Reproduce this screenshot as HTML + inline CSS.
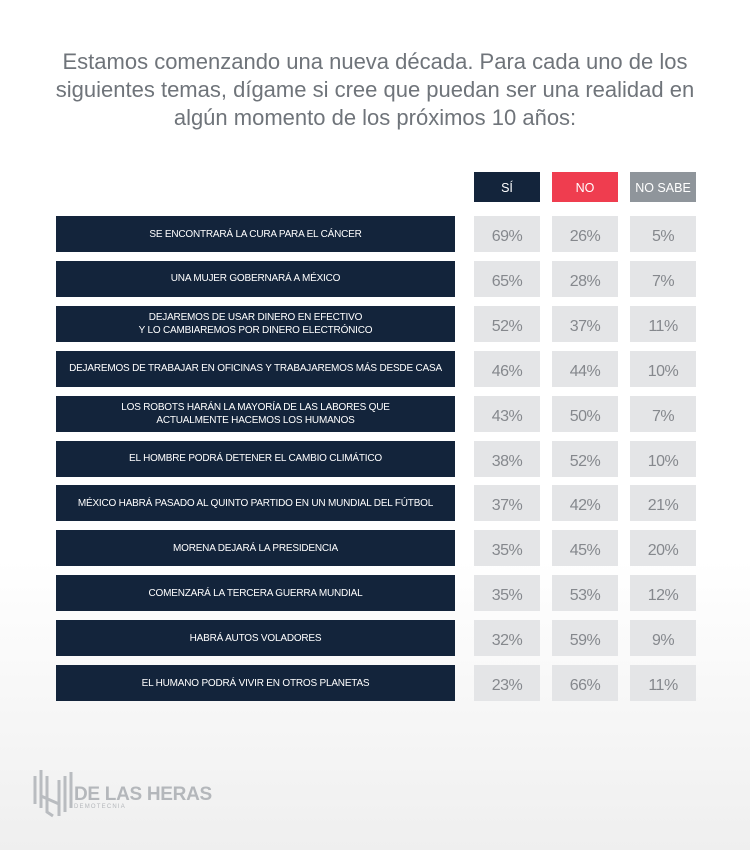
<!DOCTYPE html>
<html><head><meta charset="utf-8"><style>
body{margin:0;width:750px;height:850px;overflow:hidden;font-family:"Liberation Sans",sans-serif;background:linear-gradient(#fff 0,#fff 560px,#efefef 850px);position:relative}
.t{position:absolute;left:0;width:750px;top:48px;text-align:center;color:#6f747a;font-size:22px;line-height:28px}
.h{position:absolute;top:172px;width:66px;height:30px;color:#fff;font-size:12.5px;line-height:33px;text-align:center}
.lab{position:absolute;left:56px;width:399px;height:36px;background:#13243b;color:#fff;font-size:10px;letter-spacing:-0.2px;display:flex;align-items:center;justify-content:center;text-align:center;line-height:13px;white-space:nowrap}
.v{position:absolute;width:66px;height:36px;background:#e4e5e7;color:#85888d;font-size:16px;line-height:42px;text-align:center;letter-spacing:-0.5px}
</style></head><body>
<div class="t">Estamos comenzando una nueva década. Para cada uno de los<br>siguientes temas, dígame si cree que puedan ser una realidad en<br>algún momento de los próximos 10 años:</div>
<div class="h" style="left:474px;background:#13243b">SÍ</div>
<div class="h" style="left:552px;background:#ef3d4f">NO</div>
<div class="h" style="left:630px;background:#8f959b">NO SABE</div>
<div id="rows"></div>
<div style="position:absolute;left:33px;top:768px;width:40px;height:50px">
<svg width="40" height="50"><g stroke="#b9bcc0" stroke-width="3" fill="none"><path d="M2 8V36M8 2V40M14 8V44L20 48M26 12V48M32 8V44M38 4V40"/><path d="M8 28L26 36"/></g></svg></div>
<div style="position:absolute;left:74px;top:784px;color:#b4b7bb;font-size:19px;font-weight:bold;letter-spacing:-0.3px">DE LAS HERAS</div>
<div style="position:absolute;left:74px;top:804px;color:#b4b7bb;font-size:6px;letter-spacing:1.2px">DEMOTECNIA</div>
<script>
const categories=["SE ENCONTRARÁ LA CURA PARA EL CÁNCER","UNA MUJER GOBERNARÁ A MÉXICO","DEJAREMOS DE USAR DINERO EN EFECTIVO<br>Y LO CAMBIAREMOS POR DINERO ELECTRÓNICO","DEJAREMOS DE TRABAJAR EN OFICINAS Y TRABAJAREMOS MÁS DESDE CASA","LOS ROBOTS HARÁN LA MAYORÍA DE LAS LABORES QUE<br>ACTUALMENTE HACEMOS LOS HUMANOS","EL HOMBRE PODRÁ DETENER EL CAMBIO CLIMÁTICO","MÉXICO HABRÁ PASADO AL QUINTO PARTIDO EN UN MUNDIAL DEL FÚTBOL","MORENA DEJARÁ LA PRESIDENCIA","COMENZARÁ LA TERCERA GUERRA MUNDIAL","HABRÁ AUTOS VOLADORES","EL HUMANO PODRÁ VIVIR EN OTROS PLANETAS"];
const si=[69,65,52,46,43,38,37,35,35,32,23];
const no=[26,28,37,44,50,52,42,45,53,59,66];
const noSabe=[5,7,11,10,7,10,21,20,12,9,11];
const series=[si,no,noSabe];
const names=['si','no','no-sabe'];
const root=document.getElementById('rows');
categories.forEach((c,i)=>{
  const y=216+i*44.9;
  const l=document.createElement('div');
  l.className='lab';l.style.top=y+'px';l.innerHTML=c;
  
  
  root.appendChild(l);
  series.forEach((s,j)=>{
    const v=document.createElement('div');
    v.className='v';v.style.top=y+'px';v.style.left=(474+j*78)+'px';
    v.textContent=s[i]+'%';
    
    
    root.appendChild(v);
  });
});
</script>
</body></html>
